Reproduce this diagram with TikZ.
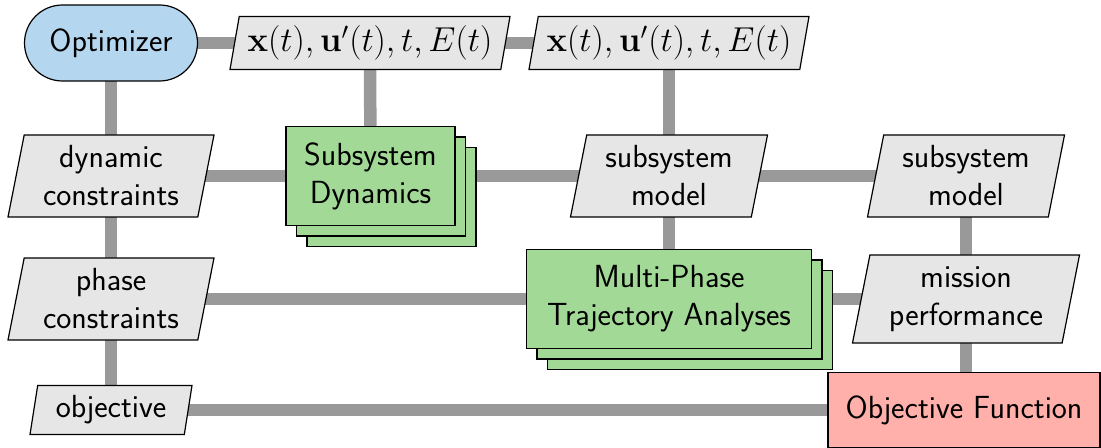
\documentclass[tikz,border=0pt]{standalone}
\usetikzlibrary{shapes.geometric,shapes.misc,shadows}
\pgfdeclarelayer{background}
\pgfsetlayers{background,main}
\definecolor{optblue}{RGB}{180,214,238}
\definecolor{fungreen}{RGB}{162,217,150}
\definecolor{datagray}{RGB}{230,230,230}
\definecolor{objred}{RGB}{255,176,170}
\definecolor{linkgray}{RGB}{153,153,153}
\tikzset{
  every node/.style={font=\sffamily\fontsize{16}{19}\selectfont, align=center, inner sep=0pt, line width=0.6pt},
  optbox/.style={rounded rectangle, draw, fill=optblue},
  funcstack/.style={rectangle, draw, fill=fungreen,
    double copy shadow={shadow xshift=5.25pt, shadow yshift=-5.25pt}},
  objbox/.style={rectangle, draw, fill=objred},
  databox/.style={trapezium, trapezium left angle=75, trapezium right angle=105,
    trapezium stretches body=true, draw, fill=datagray},
  mathlabel/.style={font=\fontsize{17}{20}\selectfont},
  link/.style={draw=linkgray, line width=6.25pt},
}
\begin{document}
\begin{tikzpicture}[x=0.5pt, y=-0.5pt]
\useasboundingbox (0,0) rectangle (1101,448);

% top row: optimizer and design variables
\node[optbox, minimum width=86.5pt, minimum height=38pt] (opt) at (111,43) {Optimizer};
\node[databox, mathlabel, minimum width=140pt, minimum height=26.5pt] (x1) at (370,43) {$\mathbf{x}(t), \mathbf{u}'(t), t, E(t)$};
\node[databox, mathlabel, minimum width=140pt, minimum height=26.5pt] (x2) at (669,43) {$\mathbf{x}(t), \mathbf{u}'(t), t, E(t)$};

% second row
\node[databox, minimum width=103pt, minimum height=41pt] (dyncon) at (111,176) {dynamic\\constraints};
\node[funcstack, minimum width=84.5pt, minimum height=49.5pt] (subdyn) at (370.5,176) {Subsystem\\Dynamics};
\node[databox, minimum width=98.5pt, minimum height=41pt] (model1) at (669,176) {subsystem\\model};
\node[databox, minimum width=98.5pt, minimum height=41pt] (model2) at (966,176) {subsystem\\model};

% third row
\node[databox, minimum width=103pt, minimum height=41pt] (phasecon) at (111,299) {phase\\constraints};
\node[funcstack, minimum width=142.5pt, minimum height=49.5pt] (mpta) at (669,299) {Multi-Phase\\Trajectory Analyses};
\node[databox, minimum width=113.5pt, minimum height=44pt] (mission) at (966,299) {mission\\performance};

% bottom row
\node[databox, minimum width=81pt, minimum height=24.5pt] (objective) at (111,410) {objective};
\node[objbox, minimum width=136pt, minimum height=37.5pt] (objfun) at (964,410) {Objective Function};

% data connections
\begin{pgfonlayer}{background}
  \draw[link] (opt.center) -- (x1.center) -- (x2.center);
  \draw[link] (opt.center) -- (dyncon.center) -- (phasecon.center) -- (objective.center);
  \draw[link] (x1.center) -- (subdyn.center);
  \draw[link] (x2.center) -- (model1.center) -- (mpta.center);
  \draw[link] (dyncon.center) -- (subdyn.center) -- (model1.center) -- (model2.center);
  \draw[link] (model2.center) -- (mission.center) -- (mission.center |- objfun.center);
  \draw[link] (phasecon.center) -- (mpta.center) -- (mission.center);
  \draw[link] (objective.center) -- (objfun.center);
\end{pgfonlayer}
\end{tikzpicture}
\end{document}
